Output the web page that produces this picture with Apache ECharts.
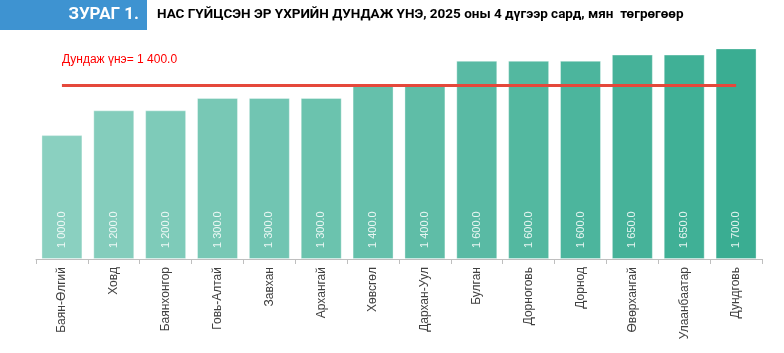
<!DOCTYPE html>
<html>
<head>
<meta charset="utf-8">
<script src="https://cdn.jsdelivr.net/npm/echarts@6/dist/echarts.min.js"></script>
<style>
  html, body { margin: 0; padding: 0; background: #fff; }
  #main { width: 784px; height: 353px; }
</style>
</head>
<body>
<div id="main"></div>
<script>
const aimags = [
  "Баян-Өлгий", "Ховд", "Баянхонгор", "Говь-Алтай", "Завхан", "Архангай", "Хөвсгөл",
  "Дархан-Уул", "Булган", "Дорноговь", "Дорнод", "Өвөрхангай", "Улаанбаатар", "Дундговь"
];
const prices = [1000, 1200, 1200, 1300, 1300, 1300, 1400, 1400, 1600, 1600, 1600, 1650, 1650, 1700];
const averagePrice = 1400;
const figureNo = "ЗУРАГ 1.";
const titleText = "НАС ГҮЙЦСЭН ЭР ҮХРИЙН ДУНДАЖ ҮНЭ, 2025 оны 4 дүгээр сард, мян  төгрөгөөр";

function fmt(v) {
  // 1400 -> "1 400.0"
  const s = v.toFixed(1);
  const [i, d] = s.split(".");
  return i.replace(/\B(?=(\d{3})+(?!\d))/g, " ") + "." + d;
}

function barColors(n) {
  // light teal to darker teal, left to right
  const from = [138, 208, 192];
  const to = [58, 173, 146];
  const out = [];
  for (let k = 0; k < n; k++) {
    const t = n > 1 ? k / (n - 1) : 0;
    const c = from.map((f, j) => Math.round(f + t * (to[j] - f)));
    out.push(`rgb(${c[0]},${c[1]},${c[2]})`);
  }
  return out;
}

const chart = echarts.init(document.getElementById('main'));
const colors = barColors(prices.length);

chart.setOption({
  animation: false,
  graphic: [
    { type: 'rect', left: 0, top: 0, shape: { width: 147, height: 30 }, style: { fill: '#3E93D1' } },
    {
      type: 'text', right: 784 - 139, top: 6,
      style: { text: figureNo, fill: '#fff', font: 'bold 17px Roboto, "Liberation Sans", sans-serif' }
    },
    {
      type: 'text', left: 157, top: 8,
      style: { text: titleText, fill: '#000', font: 'bold 13.5px Roboto, "Liberation Sans", sans-serif' }
    }
  ],
  grid: { left: 36, right: 22, top: 36, bottom: 94 },
  xAxis: {
    type: 'category',
    data: aimags,
    axisLine: { lineStyle: { color: '#bfbfbf', width: 1 } },
    axisTick: { show: true, length: 5, lineStyle: { color: '#bfbfbf' } },
    axisLabel: {
      rotate: 90, interval: 0, margin: 8,
      color: '#404040', fontSize: 12, fontFamily: '"Liberation Sans", Arial, sans-serif'
    }
  },
  yAxis: {
    type: 'value', min: 0, max: 1800,
    show: false,
    splitLine: { show: false }
  },
  series: [{
    type: 'bar',
    data: prices.map((v, i) => ({ value: v, itemStyle: { color: colors[i] } })),
    barCategoryGap: '21%',
    itemStyle: { borderColor: 'rgba(255,255,255,0.35)', borderWidth: 1 },
    label: {
      show: true,
      position: 'insideBottom',
      rotate: 90,
      align: 'left',
      verticalAlign: 'middle',
      distance: 11,
      color: 'rgba(255,255,255,0.85)',
      fontSize: 11,
      fontFamily: '"Liberation Sans", Arial, sans-serif',
      formatter: p => fmt(p.value)
    },
    markLine: {
      symbol: 'none',
      silent: true,
      lineStyle: { color: '#E5483B', width: 3, type: 'solid' },
      label: {
        show: true,
        position: 'insideStartTop',
        distance: [0, 20],
        color: '#FF0000',
        fontSize: 12,
        fontFamily: '"Liberation Sans", Arial, sans-serif',
        formatter: () => 'Дундаж үнэ= ' + fmt(averagePrice)
      },
      data: [[
        { coord: [0, averagePrice] },
        { coord: [aimags.length - 1, averagePrice] }
      ]]
    }
  }]
});

window.addEventListener('resize', () => chart.resize());
</script>
</body>
</html>
